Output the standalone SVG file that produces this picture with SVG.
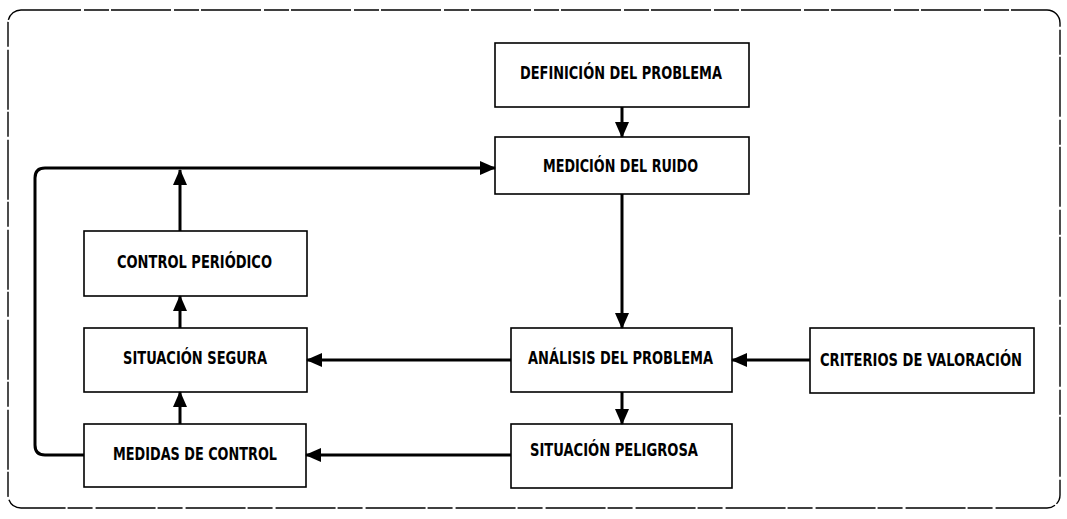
<svg xmlns="http://www.w3.org/2000/svg" width="1067" height="519" viewBox="0 0 1067 519">
<style>
.box{fill:#fff;stroke:#000;stroke-width:1.6}
.lbl{font-family:"DejaVu Sans Condensed","Liberation Sans Narrow","Liberation Sans",sans-serif;font-weight:bold;font-size:17px;fill:#000}
.con{fill:none;stroke:#000;stroke-width:3}
</style>
<defs>
<marker id="ah" markerUnits="userSpaceOnUse" markerWidth="16" markerHeight="14" refX="15" refY="7" orient="auto">
<path d="M0,0 L16,7 L0,14 Z" fill="#000"/>
</marker>
</defs>
<rect width="1067" height="519" fill="#fff"/>
<rect x="8" y="10" width="1052" height="498" rx="13" fill="none" stroke="#000" stroke-width="1.4" stroke-dasharray="60 3 25 2"/>
<g id="n1"><rect class="box" x="495" y="43" width="254" height="64"/><text class="lbl" x="520" y="79" textLength="202" lengthAdjust="spacingAndGlyphs">DEFINICIÓN DEL PROBLEMA</text></g>
<g id="n2"><rect class="box" x="495" y="137" width="254" height="57"/><text class="lbl" x="543" y="172" textLength="155" lengthAdjust="spacingAndGlyphs">MEDICIÓN DEL RUIDO</text></g>
<g id="n3"><rect class="box" x="84" y="231" width="223" height="65"/><text class="lbl" x="117" y="268" textLength="155" lengthAdjust="spacingAndGlyphs">CONTROL PERIÓDICO</text></g>
<g id="n4"><rect class="box" x="84" y="328" width="223" height="64"/><text class="lbl" x="123" y="364" textLength="144" lengthAdjust="spacingAndGlyphs">SITUACIÓN SEGURA</text></g>
<g id="n5"><rect class="box" x="84" y="424" width="222" height="63"/><text class="lbl" x="113" y="460" textLength="164" lengthAdjust="spacingAndGlyphs">MEDIDAS DE CONTROL</text></g>
<g id="n6"><rect class="box" x="511" y="328" width="221" height="64"/><text class="lbl" x="528" y="364" textLength="185" lengthAdjust="spacingAndGlyphs">ANÁLISIS DEL PROBLEMA</text></g>
<g id="n7"><rect class="box" x="511" y="424" width="221" height="64"/><text class="lbl" x="530" y="456" textLength="168" lengthAdjust="spacingAndGlyphs">SITUACIÓN PELIGROSA</text></g>
<g id="n8"><rect class="box" x="810" y="328" width="224" height="65"/><text class="lbl" x="820" y="366" textLength="202" lengthAdjust="spacingAndGlyphs">CRITERIOS DE VALORACIÓN</text></g>
<g id="connectors">
<path class="con" d="M622,107 V137" marker-end="url(#ah)"/>
<path class="con" d="M622,194 V328" marker-end="url(#ah)"/>
<path class="con" d="M622,392 V424" marker-end="url(#ah)"/>
<path class="con" d="M810,360 H732" marker-end="url(#ah)"/>
<path class="con" d="M511,360 H307" marker-end="url(#ah)"/>
<path class="con" d="M511,455 H306" marker-end="url(#ah)"/>
<path class="con" d="M180,424 V392" marker-end="url(#ah)"/>
<path class="con" d="M180,328 V296" marker-end="url(#ah)"/>
<path class="con" d="M180,231 V170" marker-end="url(#ah)"/>
<path class="con" d="M84,455 H45 Q35,455 35,445 V178 Q35,168 45,168 H495" marker-end="url(#ah)"/>
</g>
</svg>
